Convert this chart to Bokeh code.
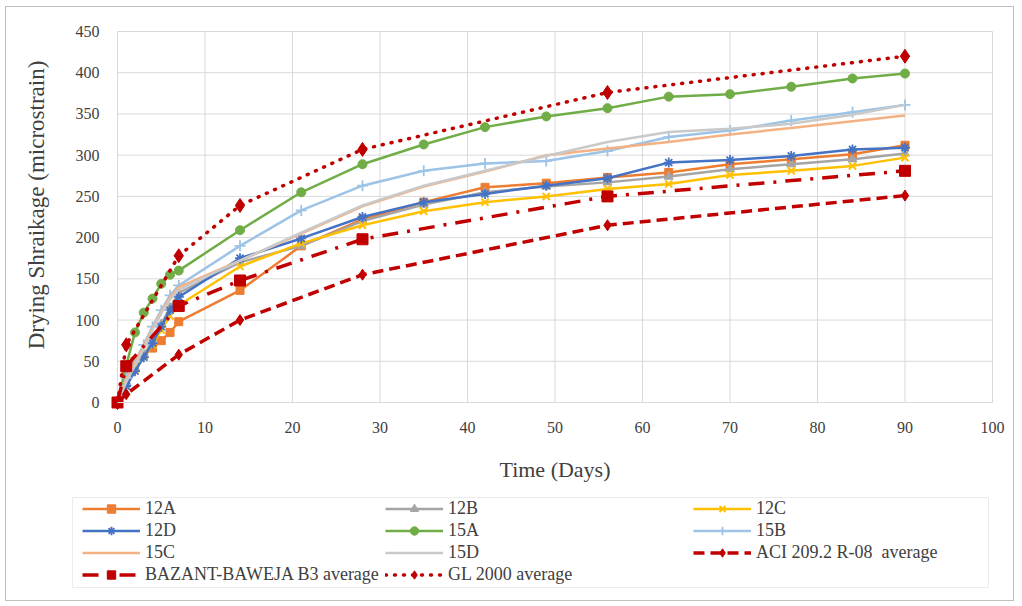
from bokeh.plotting import figure
from bokeh.models import Legend, LegendItem, FixedTicker, Range1d, BoxAnnotation
from bokeh.embed import file_html
from bokeh.resources import INLINE

# Measured drying shrinkage (microstrain) vs. age (days)
days = [0, 1, 2, 3, 4, 5, 6, 7, 14, 21, 28, 35, 42, 49, 56, 63, 70, 77, 84, 90]
s12A = [0, 35, 50, 58, 66, 75, 85, 98, 136, 190, 222, 243, 261, 266, 273, 279, 289, 295, 301, 312]
s12B = [0, 25, 42, 58, 75, 95, 115, 133, 170, 190, 220, 240, 255, 262, 267, 274, 283, 289, 295, 302]
s12C = [0, 22, 40, 55, 70, 88, 105, 118, 165, 193, 215, 232, 243, 250, 259, 265, 276, 281, 287, 297]
s12D = [0, 20, 38, 55, 72, 92, 112, 128, 175, 199, 225, 243, 253, 263, 272, 291, 294, 299, 307, 309]
s15A = [0, 45, 85, 109, 126, 144, 155, 160, 209, 255, 289, 313, 334, 347, 357, 371, 374, 383, 393, 399]
s15B = [0, 30, 50, 70, 92, 112, 130, 142, 190, 233, 263, 281, 290, 293, 305, 322, 330, 342, 352, 361]
s15C = [0, 28, 48, 68, 90, 110, 128, 140, 172, 205, 238, 262, 280, 300, 308, 316, 325, 333, 341, 348]
s15D = [0, 25, 45, 65, 88, 108, 125, 137, 172, 206, 239, 263, 281, 299, 316, 328, 332, 338, 349, 361]

# Model predictions (averages)
model_days = [0, 1, 7, 14, 28, 56, 90]
aci = [0, 10, 58, 100, 155, 215, 251]
bazant = [0, 44, 117, 148, 198, 250, 281]
gl2000 = [0, 70, 178, 239, 307, 376, 420]

x_ticks = [0, 10, 20, 30, 40, 50, 60, 70, 80, 90, 100]
y_ticks = [0, 50, 100, 150, 200, 250, 300, 350, 400, 450]

SERIF = "Liberation Serif"
TXT = "#404040"
GRID = "#D9D9D9"
RED = "#C00000"

# Canvas layout (pixels): the frame fills the whole canvas so the legend
# underneath the axes can live in the same drawing area.
W, H = 1009, 595
X0_PX, PX_PER_DAY = 111, 8.75           # where day 0 sits, scale
Y0_PX, PX_PER_UNIT = 395, 371 / 450     # where 0 microstrain sits, scale
Y_TITLE_CENTER_PX = 176                 # vertical centre of the y-axis title


def data_x(px):
    return (px - X0_PX) / PX_PER_DAY


def data_y(py):
    return (Y0_PX - py) / PX_PER_UNIT


p = figure(width=W, height=H,
           x_range=Range1d(data_x(0), data_x(W)),
           y_range=Range1d(data_y(H), data_y(0)),
           output_backend="svg", toolbar_location=None,
           min_border=0)
p.styles = {"border": "1px solid #BFBFBF", "margin-left": "5px", "margin-top": "6px"}
p.outline_line_color = None
p.xgrid.visible = False
p.ygrid.visible = False

# gridlines limited to the plotting region
p.segment(x0=x_ticks, y0=y_ticks[0], x1=x_ticks, y1=y_ticks[-1],
          line_color=GRID, line_width=1, level="underlay")
p.segment(x0=x_ticks[0], y0=y_ticks, x1=x_ticks[-1], y1=y_ticks,
          line_color=GRID, line_width=1, level="underlay")

p.xaxis.ticker = FixedTicker(ticks=x_ticks)
p.yaxis.ticker = FixedTicker(ticks=y_ticks)
p.xaxis.fixed_location = 0
p.yaxis.fixed_location = 0
p.xaxis.bounds = (x_ticks[0], x_ticks[-1])
# the y title is centred on the axis bounds; the axis line itself is hidden
p.yaxis.bounds = (y_ticks[0], 2 * data_y(Y_TITLE_CENTER_PX))

for ax in (p.xaxis, p.yaxis):
    ax.major_tick_line_color = None
    ax.minor_tick_line_color = None
    ax.major_label_text_font = SERIF
    ax.major_label_text_font_size = "16px"
    ax.major_label_text_color = TXT
    ax.axis_label_text_font = SERIF
    ax.axis_label_text_font_style = "normal"
    ax.axis_label_text_color = TXT
p.xaxis.axis_label_text_font_size = "22px"
p.yaxis.axis_label_text_font_size = "23px"
p.xaxis.axis_line_color = GRID
p.yaxis.axis_line_color = None
p.xaxis.axis_label = "Time (Days)"
p.yaxis.axis_label = "Drying Shraikage (microstrain)"
p.xaxis.major_label_standoff = 13
p.yaxis.major_label_standoff = 12
p.xaxis.axis_label_standoff = 21
p.yaxis.axis_label_standoff = 24


def series(x, y, color, marker=None, size=8, lw=2.5, dash="solid", mlw=1.0, cap="butt"):
    rs = [p.line(x, y, line_color=color, line_width=lw, line_dash=dash, line_cap=cap)]
    if marker:
        rs.append(p.scatter(x, y, marker=marker, size=size, fill_color=color,
                            line_color=color, line_width=mlw))
    return rs


r12A = series(days, s12A, "#ED7D31", "square", 8)
r12B = series(days, s12B, "#A5A5A5", "triangle", 9)
r12C = series(days, s12C, "#FFC000", "x", 10, mlw=2)
r12D = series(days, s12D, "#4472C4", "asterisk", 10, mlw=1.8)
r15A = series(days, s15A, "#70AD47", "circle", 9)
r15B = series(days, s15B, "#9DC3E6", "cross", 11, mlw=1.8)
r15C = series(days, s15C, "#F4B183")
r15D = series(days, s15D, "#C9C9C9")
rACI = series(model_days, aci, RED, "diamond", 11, lw=3.5, dash="11 6")
rBAZ = series(model_days, bazant, RED, "square", 11, lw=3.5, dash="16 9 3 9")
rGL = series(model_days, gl2000, RED, "diamond", 14, lw=3.5, dash="1 8", cap="round")

# legend frame
p.add_layout(BoxAnnotation(left=data_x(66), right=data_x(982),
                           top=data_y(490), bottom=data_y(580),
                           fill_color="white", fill_alpha=1.0,
                           line_color="#BFBFBF", line_width=1, level="annotation"))

columns = [
    [("12A", r12A), ("12D", r12D), ("15C", r15C), ("BAZANT-BAWEJA B3 average", rBAZ)],
    [("12B", r12B), ("15A", r15A), ("15D", r15D), ("GL 2000 average", rGL)],
    [("12C", r12C), ("15B", r15B), ("ACI 209.2 R-08  average", rACI)],
]
col_px = [76, 379, 687]
gh, sp, top_px = 21, 1, 491
for items, cx in zip(columns, col_px):
    h = len(items) * gh + (len(items) - 1) * sp
    leg = Legend(items=[LegendItem(label=t, renderers=r) for t, r in items],
                 location=(cx, H - (top_px + h)), orientation="vertical",
                 glyph_width=58, glyph_height=gh, label_height=gh,
                 label_standoff=5, spacing=sp, padding=0, margin=0,
                 label_text_font=SERIF, label_text_font_size="18px",
                 label_text_color=TXT, background_fill_alpha=0.0,
                 border_line_color=None)
    p.add_layout(leg, "center")

open("out.html", "w").write(file_html(p, INLINE))
